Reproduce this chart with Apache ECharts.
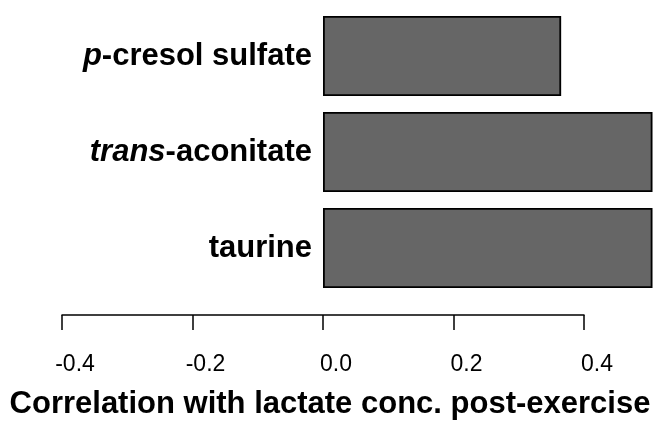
<!DOCTYPE html>
<html>
<head>
<meta charset="utf-8">
<script src="https://cdn.jsdelivr.net/npm/echarts@6/dist/echarts.min.js"></script>
<style>html,body{margin:0;padding:0;background:#fff}#c{width:655px;height:426px}</style>
</head>
<body>
<div id="c"></div>
<script>
// Data (bottom to top)
var categories = ['taurine', 'trans-aconitate', 'p-cresol sulfate'];
var italicPrefix = ['', 'trans', 'p'];
var correlation = [0.505, 0.505, 0.365];
var xTicks = [-0.4, -0.2, 0.0, 0.2, 0.4];
var xTitle = 'Correlation with lactate conc. post-exercise';

var FONT = '"Liberation Sans", Arial, sans-serif';
var chart = echarts.init(document.getElementById('c'), null, {renderer: 'canvas'});
chart.setOption({
  animation: false,
  backgroundColor: '#ffffff',
  grid: {left: 62, right: 71, top: 8, bottom: 130, containLabel: false, outerBoundsMode: 'none'},
  xAxis: {
    type: 'value',
    min: xTicks[0],
    max: xTicks[xTicks.length - 1],
    interval: 0.2,
    offset: 19,
    axisLine: {show: true, onZero: false, lineStyle: {color: '#000', width: 1.5}},
    axisTick: {show: true, length: 15, lineStyle: {color: '#000', width: 1.5}},
    splitLine: {show: false},
    axisLabel: {
      margin: 38,
      padding: [0, 0, 0, 26],
      fontFamily: FONT, fontSize: 23, color: '#000',
      formatter: function (v) { return v.toFixed(1); }
    },
    name: xTitle,
    nameLocation: 'middle',
    nameGap: 74,
    nameTextStyle: {fontFamily: FONT, fontSize: 31, fontWeight: 'bold', color: '#000', padding: [0, 0, 0, 14]}
  },
  yAxis: {
    type: 'category',
    data: categories,
    axisLine: {show: false},
    axisTick: {show: false},
    splitLine: {show: false},
    axisLabel: {
      margin: -250,
      align: 'right',
      fontFamily: FONT, fontSize: 31, fontWeight: 'bold', color: '#000',
      formatter: function (v, i) {
        var p = italicPrefix[i];
        if (p) return '{i|' + p + '}{b|' + v.slice(p.length) + '}';
        return '{b|' + v + '}';
      },
      rich: {
        i: {fontFamily: FONT, fontSize: 31, fontWeight: 'bold', fontStyle: 'italic', color: '#000'},
        b: {fontFamily: FONT, fontSize: 31, fontWeight: 'bold', color: '#000'}
      }
    }
  },
  series: [{
    type: 'bar',
    data: correlation,
    clip: false,
    barCategoryGap: '16.67%',
    itemStyle: {color: '#666666', borderColor: '#000', borderWidth: 1.8}
  }]
});
</script>
</body>
</html>
